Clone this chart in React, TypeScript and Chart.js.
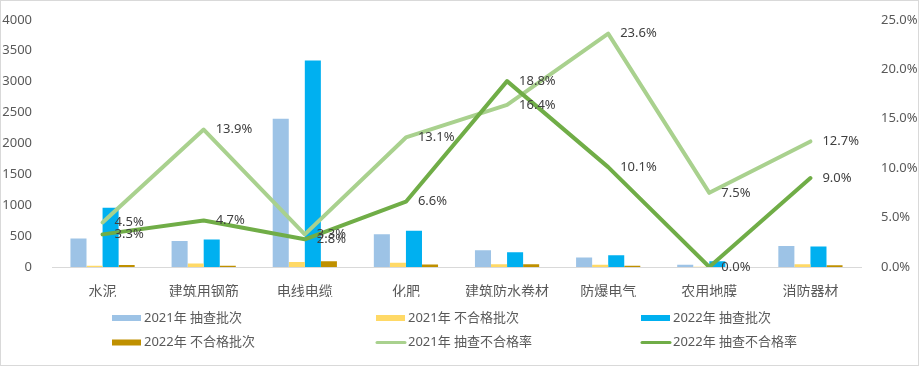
import React, { useEffect, useRef } from 'react';
import { Chart, registerables } from 'chart.js';

Chart.register(...registerables);

const categories = ['水泥', '建筑用钢筋', '电线电缆', '化肥', '建筑防水卷材', '防爆电气', '农用地膜', '消防器材'];
const checked2021 = [460, 420, 2400, 528, 272, 155, 35, 341];
const failed2021 = [21, 58, 79, 69, 45, 37, 3, 43];
const checked2022 = [960, 443, 3340, 587, 240, 192, 95, 331];
const failed2022 = [32, 21, 94, 39, 45, 19, 0, 30];
const rate2021 = [4.5, 13.9, 3.3, 13.1, 16.4, 23.6, 7.5, 12.7];
const rate2022 = [3.3, 4.7, 2.8, 6.6, 18.8, 10.1, 0.0, 9.0];

const seriesNames = ['2021年 抽查批次', '2021年 不合格批次', '2022年 抽查批次', '2022年 不合格批次', '2021年 抽查不合格率', '2022年 抽查不合格率'];
const seriesColors = ['#9DC3E6', '#FFD966', '#00B0F0', '#BF9000', '#A9D18E', '#70AD47'];

const FONT = '"Noto Sans", "Noto Sans CJK SC", sans-serif';
const W = 919;
const H = 366;

const framePlugin = {
  id: 'frame',
  beforeDraw(chart: any) {
    const ctx = chart.ctx;
    ctx.save();
    ctx.fillStyle = '#ffffff';
    ctx.fillRect(0, 0, chart.width, chart.height);
    ctx.strokeStyle = '#d9d9d9';
    ctx.lineWidth = 1;
    ctx.strokeRect(0.5, 0.5, chart.width - 1, chart.height - 1);
    ctx.restore();
  },
};

const lineLabelPlugin = {
  id: 'lineLabels',
  afterDatasetsDraw(chart: any) {
    const ctx = chart.ctx;
    ctx.save();
    ctx.font = `13px ${FONT}`;
    ctx.fillStyle = '#404040';
    ctx.textAlign = 'left';
    ctx.textBaseline = 'middle';
    chart.data.datasets.forEach((ds: any, di: number) => {
      if (ds.type !== 'line') return;
      const meta = chart.getDatasetMeta(di);
      meta.data.forEach((pt: any, i: number) => {
        ctx.fillText(Number(ds.data[i]).toFixed(1) + '%', pt.x + 12, pt.y);
      });
    });
    ctx.restore();
  },
};

const legendPlugin = {
  id: 'gridLegend',
  afterDraw(chart: any) {
    const ctx = chart.ctx;
    const colX = [112, 376, 641];
    const rowY = [318, 342.5];
    ctx.save();
    ctx.font = `13px ${FONT}`;
    ctx.fillStyle = '#595959';
    ctx.textAlign = 'left';
    ctx.textBaseline = 'middle';
    chart.data.datasets.forEach((ds: any, i: number) => {
      const x = colX[i % 3];
      const y = rowY[Math.floor(i / 3)];
      if (ds.type === 'line') {
        ctx.strokeStyle = ds.borderColor;
        ctx.lineWidth = 3;
        ctx.lineCap = 'round';
        ctx.beginPath();
        ctx.moveTo(x + 1, y);
        ctx.lineTo(x + 29, y);
        ctx.stroke();
      } else {
        ctx.fillStyle = ds.backgroundColor;
        ctx.fillRect(x, y - 3, 29, 6);
      }
      ctx.fillStyle = '#595959';
      ctx.fillText(ds.label, x + 32, y);
    });
    ctx.restore();
  },
};

export default function App() {
  const ref = useRef<HTMLCanvasElement | null>(null);

  useEffect(() => {
    document.body.style.margin = '0';
    const canvas = ref.current;
    if (!canvas) return;
    const barData = [checked2021, failed2021, checked2022, failed2022];
    const datasets: any[] = barData.map((d, i) => ({
      type: 'bar',
      label: seriesNames[i],
      data: d,
      backgroundColor: seriesColors[i],
      borderWidth: 0,
      yAxisID: 'y',
      order: 2,
      categoryPercentage: 0.635,
      barPercentage: 1,
    }));
    [rate2021, rate2022].forEach((d, j) => {
      datasets.push({
        type: 'line',
        label: seriesNames[4 + j],
        data: d,
        borderColor: seriesColors[4 + j],
        backgroundColor: seriesColors[4 + j],
        borderWidth: 4,
        pointRadius: 0,
        pointHoverRadius: 0,
        tension: 0,
        borderJoinStyle: 'round',
        borderCapStyle: 'round',
        yAxisID: 'y1',
        order: 1 - j,
      });
    });

    const chart = new Chart(canvas, {
      type: 'bar',
      data: { labels: categories, datasets },
      options: {
        responsive: false,
        animation: false,
        devicePixelRatio: 1,
        layout: { padding: { left: 0, right: 0, top: 17, bottom: 69 } },
        plugins: {
          legend: { display: false },
          tooltip: { enabled: false },
        },
        scales: {
          x: {
            grid: { display: false },
            border: { display: true, color: '#d9d9d9', width: 1 },
            ticks: {
              color: '#595959',
              font: { size: 14, family: FONT },
              padding: 9,
              maxRotation: 0,
              autoSkip: false,
            },
            afterFit(scale: any) {
              scale.height = 30;
            },
          },
          y: {
            position: 'left',
            min: 0,
            max: 4000,
            grid: { display: false },
            border: { display: false },
            ticks: {
              stepSize: 500,
              color: '#595959',
              font: { size: 13, family: FONT },
              padding: 12,
              callback: (v: any) => String(v),
            },
            afterFit(scale: any) {
              scale.width = 52;
            },
          },
          y1: {
            position: 'right',
            min: 0,
            max: 25,
            grid: { display: false },
            border: { display: false },
            ticks: {
              stepSize: 5,
              color: '#595959',
              font: { size: 13, family: FONT },
              padding: 12,
              callback: (v: any) => Number(v).toFixed(1) + '%',
            },
            afterFit(scale: any) {
              scale.width = 58;
            },
          },
        },
      } as any,
      plugins: [framePlugin, lineLabelPlugin, legendPlugin],
    });
    return () => chart.destroy();
  }, []);

  return (
    <div style={{ position: 'absolute', left: 0, top: 0, width: W, height: H, overflow: 'hidden' }}>
      <canvas ref={ref} width={W} height={H} style={{ display: 'block', width: W, height: H }} />
    </div>
  );
}
